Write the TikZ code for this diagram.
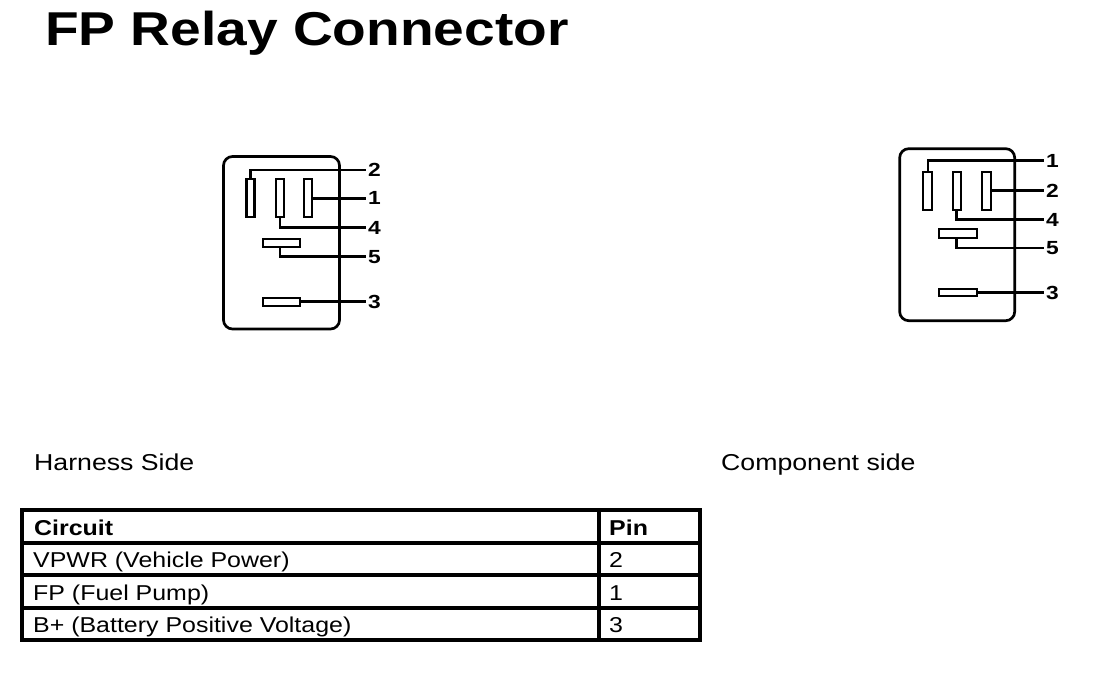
\documentclass[tikz,border=0pt]{standalone}
\usepackage{fontspec}
\setmainfont{Liberation Sans}
\newfontfamily\wfont[FakeStretch=1.16]{Liberation Sans}
\newfontfamily\lfont[FakeStretch=1.2]{Liberation Sans}
\newfontfamily\tfont[FakeStretch=1.16]{Liberation Sans}
\begin{document}
\begin{tikzpicture}[x=1pt,y=-1pt,
  box/.style={draw,line width=2.7pt,rounded corners=9pt,inner sep=0pt},
  vpin/.style={draw,line width=2.2pt,minimum width=8pt,minimum height=38pt,inner sep=0pt},
  hpin/.style={draw,line width=2.2pt,minimum width=37pt,minimum height=8pt,inner sep=0pt},
  lead/.style={line width=2.6pt},
  pinlbl/.style={anchor=west,inner sep=0pt,font=\lfont\fontsize{19}{19}\selectfont\bfseries},
  cell/.style={draw,line width=4pt,inner sep=0pt},
  celltxt/.style={anchor=base west,inner sep=0pt,font=\wfont\fontsize{21.5}{22}\selectfont},
  sidetxt/.style={anchor=base west,inner sep=0pt,font=\wfont\fontsize{23}{23}\selectfont},
]
\useasboundingbox[fill=white] (0,0) rectangle (1120,674);

% title
\node[anchor=base west,inner sep=0pt,font=\tfont\fontsize{47.5}{48}\selectfont\bfseries] (title) at (45,45.5) {FP Relay Connector};

% ---------- Harness side connector ----------
\node[box,minimum width=116pt,minimum height=172.5pt] (HB) at (281.5,242.75) {};
\node[vpin] (HA) at (250.5,198.3) {};
\node[vpin] (HBp) at (280,198.3) {};
\node[vpin] (HC) at (308.3,198.3) {};
\node[hpin] (H5) at (281.2,243.3) {};
\node[hpin] (H3) at (281.2,301.7) {};
\node[pinlbl] (hl2) at (368,170) {2};
\node[pinlbl] (hl1) at (368,198.3) {1};
\node[pinlbl] (hl4) at (368,227.5) {4};
\node[pinlbl] (hl5) at (368,256.7) {5};
\node[pinlbl] (hl3) at (368,301.7) {3};
\draw[lead] (HA.north) |- ([xshift=-2pt]hl2.west);
\draw[lead] (HC.east) -- ([xshift=-2pt]HC.east -| hl1.west);
\draw[lead] (HBp.south) |- ([xshift=-2pt]hl4.west);
\draw[lead] (HBp |- H5.south) |- ([xshift=-2pt]hl5.west);
\draw[lead] (H3.east) -- ([xshift=-2pt]H3.east -| hl3.west);

% ---------- Component side connector ----------
\node[box,minimum width=115pt,minimum height=172pt] (CB) at (957.2,234.7) {};
\node[vpin,minimum width=9pt] (CA) at (927.8,190.8) {};
\node[vpin] (CBp) at (956.7,190.8) {};
\node[vpin,minimum width=9pt] (CC) at (986.2,190.8) {};
\node[hpin,minimum width=38pt,minimum height=9pt] (C5) at (958.3,233.8) {};
\node[hpin,minimum width=38pt,minimum height=7pt] (C3) at (958.3,292.2) {};
\node[pinlbl] (cl1) at (1046,160.7) {1};
\node[pinlbl] (cl2) at (1046,190.7) {2};
\node[pinlbl] (cl4) at (1046,219.5) {4};
\node[pinlbl] (cl5) at (1046,248) {5};
\node[pinlbl] (cl3) at (1046,293) {3};
\draw[lead] (CA.north) |- ([xshift=-2.5pt]cl1.west);
\draw[lead] (CC.east) -- ([xshift=-2.5pt]CC.east -| cl2.west);
\draw[lead] (CBp.south) |- ([xshift=-2.5pt]cl4.west);
\draw[lead] (CBp |- C5.south) |- ([xshift=-2.5pt]cl5.west);
\draw[lead] (C3.east) -- ([xshift=-2.5pt]C3.east -| cl3.west);

% side captions
\node[sidetxt] (hs) at (34,470) {Harness Side};
\node[sidetxt] (cs) at (721,470) {Component side};

% ---------- table ----------
\node[cell,minimum width=577pt,minimum height=32.5pt] (c11) at (310.5,526.25) {};
\node[cell,minimum width=101pt,minimum height=32.5pt] (c12) at (649.5,526.25) {};
\node[cell,minimum width=577pt,minimum height=32.5pt] (c21) at (310.5,558.75) {};
\node[cell,minimum width=101pt,minimum height=32.5pt] (c22) at (649.5,558.75) {};
\node[cell,minimum width=577pt,minimum height=32.5pt] (c31) at (310.5,591.25) {};
\node[cell,minimum width=101pt,minimum height=32.5pt] (c32) at (649.5,591.25) {};
\node[cell,minimum width=577pt,minimum height=32.5pt] (c41) at (310.5,623.75) {};
\node[cell,minimum width=101pt,minimum height=32.5pt] (c42) at (649.5,623.75) {};

\node[celltxt,font=\wfont\fontsize{21.5}{22}\selectfont\bfseries] (t11) at (34,535.5) {Circuit};
\node[celltxt,font=\wfont\fontsize{21.5}{22}\selectfont\bfseries] (t12) at (609,535.5) {Pin};
\node[celltxt] (t21) at (33,567.5) {VPWR (Vehicle Power)};
\node[celltxt] (t22) at (609,567.5) {2};
\node[celltxt] (t31) at (33,600) {FP (Fuel Pump)};
\node[celltxt] (t32) at (609,600) {1};
\node[celltxt] (t41) at (33,632.5) {B+ (Battery Positive Voltage)};
\node[celltxt] (t42) at (609,632.5) {3};
\end{tikzpicture}
\end{document}
